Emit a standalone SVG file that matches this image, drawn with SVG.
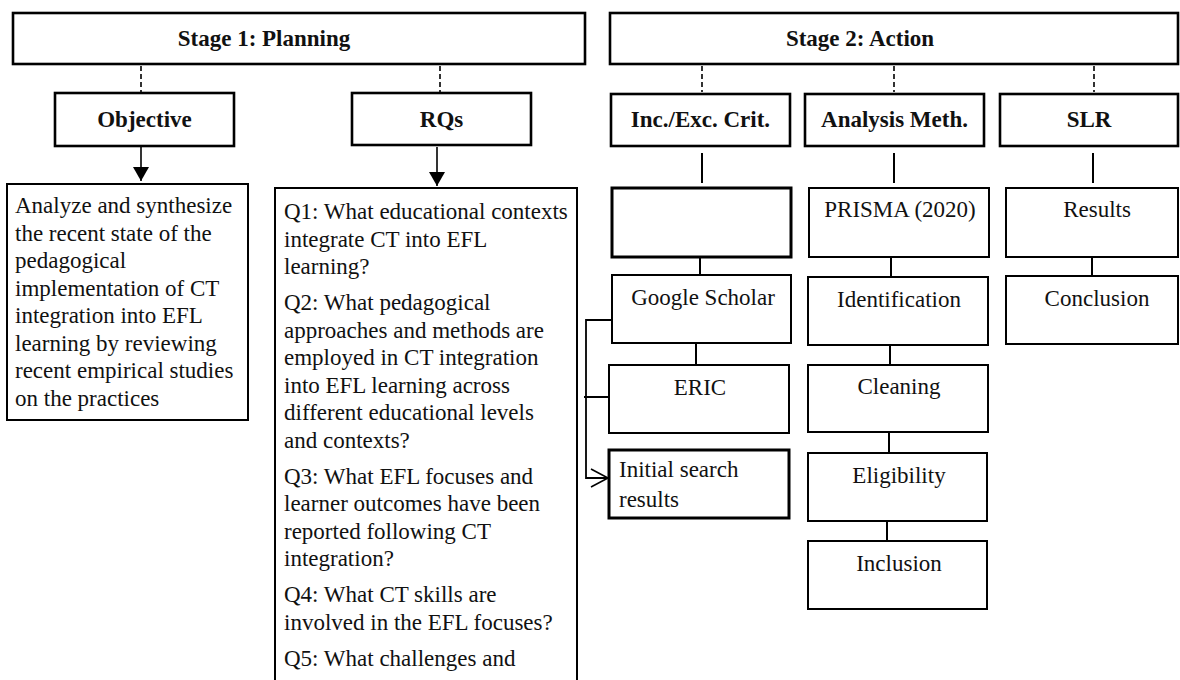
<svg xmlns="http://www.w3.org/2000/svg" width="1180" height="680" viewBox="0 0 1180 680">
  <defs>
    <style>
      .box { fill: #ffffff; stroke: #000000; stroke-width: 2; }
      .heavy { stroke-width: 2.6; }
      .thick { stroke-width: 3; }
      .t { font-family: "Liberation Serif", "Times New Roman", serif; font-size: 23px; fill: #111111; }
      .b { font-weight: bold; }
      .c { text-anchor: middle; }
      .dash { stroke: #000000; stroke-width: 1.6; stroke-dasharray: 5 3; fill: none; }
      .link { stroke: #000000; stroke-width: 2; fill: none; }
      .arrow { stroke: #000000; stroke-width: 1.6; fill: none; marker-end: url(#solidHead); }
    </style>
    <marker id="solidHead" markerUnits="userSpaceOnUse" markerWidth="14" markerHeight="16" refX="14" refY="8" orient="auto" viewBox="0 0 14 16">
      <path d="M0,0 L14,8 L0,16 Z" fill="#000000"/>
    </marker>
    <marker id="openHead" markerUnits="userSpaceOnUse" markerWidth="20" markerHeight="20" refX="18" refY="10" orient="auto" viewBox="0 0 20 20">
      <path d="M1,1 L18,10 L1,19" fill="none" stroke="#000000" stroke-width="1.6"/>
    </marker>
  </defs>

  <rect width="1180" height="680" fill="#ffffff"/>

  <!-- connectors -->
  <g id="connectors">
    <!-- stage to step (dashed) -->
    <line class="dash" x1="141" y1="66" x2="141" y2="92"/>
    <line class="dash" x1="440" y1="66" x2="440" y2="92"/>
    <line class="dash" x1="702" y1="66" x2="702" y2="92"/>
    <line class="dash" x1="894" y1="66" x2="894" y2="92"/>
    <line class="dash" x1="1094" y1="66" x2="1094" y2="92"/>
    <!-- planning arrows -->
    <line class="arrow" x1="141" y1="147" x2="141" y2="181"/>
    <line class="arrow" x1="437" y1="147" x2="437" y2="186"/>
    <!-- action columns -->
    <line class="link" x1="702" y1="153" x2="702" y2="183"/>
    <line class="link" x1="894" y1="153" x2="894" y2="183"/>
    <line class="link" x1="1093" y1="153" x2="1093" y2="183"/>
    <line class="link" x1="700" y1="257" x2="700" y2="275"/>
    <line class="link" x1="696" y1="343" x2="696" y2="365"/>
    <line class="link" x1="891" y1="257" x2="891" y2="277"/>
    <line class="link" x1="890" y1="343" x2="890" y2="365"/>
    <line class="link" x1="889" y1="432" x2="889" y2="453"/>
    <line class="link" x1="887" y1="521" x2="887" y2="541"/>
    <line class="link" x1="1092" y1="258" x2="1092" y2="279"/>
    <!-- database bracket -->
    <line class="link" x1="586" y1="320" x2="611" y2="320"/>
    <line class="link" x1="584" y1="397" x2="608" y2="397"/>
    <path d="M586,319 V478 H608" stroke="#000000" stroke-width="1.8" fill="none" marker-end="url(#openHead)"/>
  </g>

  <!-- stage headers -->
  <g id="stage1">
    <rect class="box heavy" x="13" y="13" width="572" height="51"/>
    <text class="t b c" x="264" y="46">Stage 1: Planning</text>
  </g>
  <g id="stage2">
    <rect class="box heavy" x="610" y="13" width="568" height="51"/>
    <text class="t b c" x="860" y="46">Stage 2: Action</text>
  </g>

  <!-- planning steps -->
  <g id="objective">
    <rect class="box heavy" x="55" y="93" width="179" height="53"/>
    <text class="t b c" x="144.5" y="127">Objective</text>
  </g>
  <g id="rqs">
    <rect class="box heavy" x="352" y="93" width="179" height="52"/>
    <text class="t b c" x="441.5" y="127">RQs</text>
  </g>

  <g id="objective-text">
    <rect class="box" x="7" y="184" width="241" height="236"/>
    <text class="t">
      <tspan x="15" y="213">Analyze and synthesize</tspan>
      <tspan x="15" y="240.5">the recent state of the</tspan>
      <tspan x="15" y="268">pedagogical</tspan>
      <tspan x="15" y="295.5">implementation of CT</tspan>
      <tspan x="15" y="323">integration into EFL</tspan>
      <tspan x="15" y="350.5">learning by reviewing</tspan>
      <tspan x="15" y="378">recent empirical studies</tspan>
      <tspan x="15" y="405.5">on the practices</tspan>
    </text>
  </g>

  <g id="rq-list">
    <rect class="box" x="275" y="188" width="302" height="520"/>
    <text class="t">
      <tspan x="284" y="219">Q1: What educational contexts</tspan>
      <tspan x="284" y="246.5">integrate CT into EFL</tspan>
      <tspan x="284" y="274">learning?</tspan>
      <tspan x="284" y="310">Q2: What pedagogical</tspan>
      <tspan x="284" y="337.5">approaches and methods are</tspan>
      <tspan x="284" y="365">employed in CT integration</tspan>
      <tspan x="284" y="392.5">into EFL learning across</tspan>
      <tspan x="284" y="420">different educational levels</tspan>
      <tspan x="284" y="447.5">and contexts?</tspan>
      <tspan x="284" y="483.5">Q3: What EFL focuses and</tspan>
      <tspan x="284" y="511">learner outcomes have been</tspan>
      <tspan x="284" y="538.5">reported following CT</tspan>
      <tspan x="284" y="566">integration?</tspan>
      <tspan x="284" y="602">Q4: What CT skills are</tspan>
      <tspan x="284" y="629.5">involved in the EFL focuses?</tspan>
      <tspan x="284" y="665.5">Q5: What challenges and</tspan>
    </text>
  </g>

  <!-- action steps -->
  <g id="inc-exc">
    <rect class="box heavy" x="611" y="94" width="179" height="52"/>
    <text class="t b c" x="700.5" y="127">Inc./Exc. Crit.</text>
  </g>
  <g id="analysis">
    <rect class="box heavy" x="805" y="94" width="179" height="52"/>
    <text class="t b c" x="894.5" y="127">Analysis Meth.</text>
  </g>
  <g id="slr">
    <rect class="box heavy" x="1000" y="94" width="178" height="52"/>
    <text class="t b c" x="1089" y="127">SLR</text>
  </g>

  <!-- inclusion / exclusion column -->
  <g id="criteria-blank">
    <rect class="box thick" x="612" y="188" width="179" height="69"/>
  </g>
  <g id="google-scholar">
    <rect class="box" x="612" y="275" width="179" height="68"/>
    <text class="t c" x="703" y="305">Google Scholar</text>
  </g>
  <g id="eric">
    <rect class="box" x="609" y="365" width="180" height="68"/>
    <text class="t c" x="700" y="395">ERIC</text>
  </g>
  <g id="initial-results">
    <rect class="box thick" x="609" y="450" width="180" height="68"/>
    <text class="t">
      <tspan x="619" y="477">Initial search</tspan>
      <tspan x="619" y="507">results</tspan>
    </text>
  </g>

  <!-- analysis method column -->
  <g id="prisma">
    <rect class="box" x="809" y="188" width="180" height="69"/>
    <text class="t c" x="900" y="217">PRISMA (2020)</text>
  </g>
  <g id="identification">
    <rect class="box" x="808" y="277" width="180" height="68"/>
    <text class="t c" x="899" y="307">Identification</text>
  </g>
  <g id="cleaning">
    <rect class="box" x="808" y="365" width="180" height="67"/>
    <text class="t c" x="899" y="394">Cleaning</text>
  </g>
  <g id="eligibility">
    <rect class="box" x="808" y="453" width="179" height="68"/>
    <text class="t c" x="899" y="483">Eligibility</text>
  </g>
  <g id="inclusion">
    <rect class="box" x="808" y="541" width="179" height="68"/>
    <text class="t c" x="899" y="571">Inclusion</text>
  </g>

  <!-- SLR column -->
  <g id="results">
    <rect class="box" x="1006" y="188" width="172" height="69"/>
    <text class="t c" x="1097" y="217">Results</text>
  </g>
  <g id="conclusion">
    <rect class="box" x="1006" y="276" width="172" height="68"/>
    <text class="t c" x="1097" y="306">Conclusion</text>
  </g>
</svg>
